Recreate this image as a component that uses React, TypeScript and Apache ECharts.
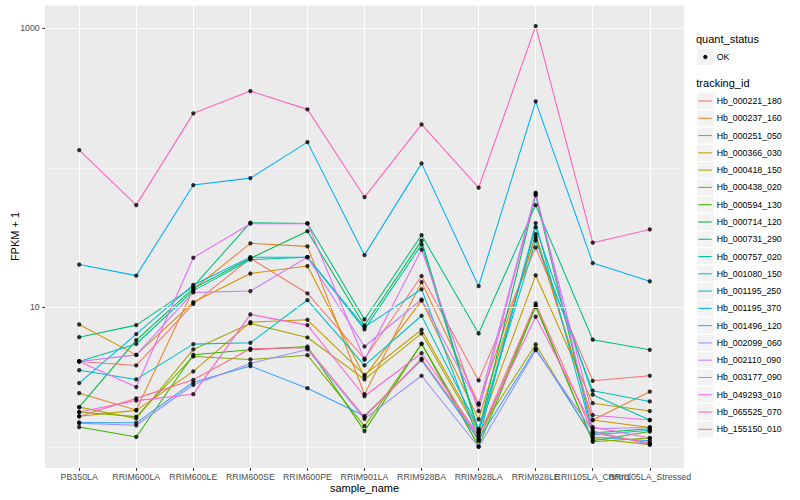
import React, { useEffect, useRef } from "react";
import * as echarts from "echarts";

// ---------- data ----------
const categories = [
  "PB350LA", "RRIM600LA", "RRIM600LE", "RRIM600SE", "RRIM600PE", "RRIM901LA",
  "RRIM928BA", "RRIM928LA", "RRIM928LE", "RRII105LA_Control", "RRII105LA_Stressed",
];

const trackingIds = [
  "Hb_000221_180", "Hb_000237_160", "Hb_000251_050", "Hb_000366_030", "Hb_000418_150",
  "Hb_000438_020", "Hb_000594_130", "Hb_000714_120", "Hb_000731_290", "Hb_000757_020",
  "Hb_001080_150", "Hb_001195_250", "Hb_001195_370", "Hb_001496_120", "Hb_002099_060",
  "Hb_002110_090", "Hb_003177_090", "Hb_049293_010", "Hb_065525_070", "Hb_155150_010",
];

const trackingColors = [
  "#F8766D", "#EA8331", "#D89000", "#C09B00", "#A3A500", "#7CAE00", "#39B600", "#00BB4E",
  "#00BF7D", "#00C1A3", "#00BFC4", "#00BAE0", "#00B0F6", "#35A2FF", "#9590FF", "#C77CFF",
  "#E76BF3", "#FA62DB", "#FF62BC", "#FF6C91",
];

// FPKM + 1 per sample, in category order
const hb_000221_180 = [4.10, 3.84, 10.6, 22.5, 12.6, 4.29, 16.8, 3.00, 26.9, 2.98, 3.24];
const hb_000237_160 = [2.43, 1.84, 13.5, 28.8, 27.4, 2.39, 15.2, 2.05, 31.8, 1.56, 2.49];
const hb_000251_050 = [7.55, 4.57, 10.9, 17.5, 19.8, 3.19, 11.2, 1.58, 33.5, 1.56, 1.38];
const hb_000366_030 = [1.66, 1.83, 3.48, 7.85, 8.16, 3.29, 6.92, 1.33, 17.0, 2.06, 1.81];
const hb_000418_150 = [1.93, 1.60, 5.00, 7.68, 6.09, 3.05, 6.51, 1.27, 5.43, 1.15, 1.04];
const hb_000438_020 = [1.78, 1.65, 4.45, 4.24, 4.55, 1.41, 5.49, 1.10, 10.4, 1.09, 1.16];
const hb_000594_130 = [1.39, 1.18, 4.58, 4.97, 5.25, 1.30, 5.49, 1.01, 10.1, 1.11, 1.29];
const hb_000714_120 = [1.93, 5.83, 13.7, 22.5, 35.2, 7.43, 30.1, 1.30, 63.8, 1.26, 1.35];
const hb_000731_290 = [6.12, 7.47, 14.1, 40.5, 40.0, 8.20, 33.0, 6.51, 54.1, 5.87, 4.97];
const hb_000757_020 = [4.10, 5.47, 13.2, 22.0, 22.9, 6.96, 28.3, 1.26, 37.6, 2.37, 1.56];
const hb_001080_150 = [3.55, 3.05, 5.46, 5.58, 11.3, 3.84, 8.72, 1.35, 30.2, 2.53, 2.12];
const hb_001195_250 = [2.87, 6.44, 14.5, 22.9, 22.9, 7.23, 13.5, 1.13, 40.2, 1.22, 1.32];
const hb_001195_370 = [20.3, 16.9, 75.3, 84.5, 153, 23.7, 107.7, 14.2, 299.7, 20.8, 15.4];
const hb_001496_120 = [1.50, 1.49, 2.91, 3.80, 2.64, 1.67, 4.19, 1.13, 5.08, 1.18, 1.11];
const hb_002099_060 = [1.48, 1.43, 2.79, 3.97, 5.00, 1.59, 3.24, 1.00, 4.94, 1.30, 1.04];
const hb_002110_090 = [4.10, 4.57, 12.8, 13.1, 22.9, 5.25, 11.4, 2.01, 66.4, 1.35, 1.38];
const hb_003177_090 = [4.10, 2.69, 22.7, 39.8, 40.0, 4.22, 26.0, 1.81, 64.9, 1.69, 1.56];
const hb_049293_010 = [1.78, 2.15, 2.39, 8.91, 7.47, 2.31, 4.70, 1.21, 8.58, 1.39, 1.16];
const hb_065525_070 = [134.2, 54.1, 245.9, 355, 262.6, 61.8, 205, 72.1, 1039, 29.1, 36.2];
const hb_155150_010 = [1.66, 2.23, 3.03, 5.06, 5.14, 1.64, 4.29, 1.18, 10.7, 1.26, 1.07];

const seriesValues = [
  hb_000221_180, hb_000237_160, hb_000251_050, hb_000366_030, hb_000418_150,
  hb_000438_020, hb_000594_130, hb_000714_120, hb_000731_290, hb_000757_020,
  hb_001080_150, hb_001195_250, hb_001195_370, hb_001496_120, hb_002099_060,
  hb_002110_090, hb_003177_090, hb_049293_010, hb_065525_070, hb_155150_010,
];

const yMajorTicks = [10, 1000];
const yMin = 0.707;
const yMax = 1470;

// ---------- layout ----------
const FONT = "'Liberation Sans', Arial, Helvetica, sans-serif";
const PANEL = { left: 45, top: 5, width: 639, height: 463 };
const DATA_GRID = { left: 79.2, top: 5, width: 570.6, height: 463 };
const KEY = 17.28;
const KEY_X = 696.7;
const LEGEND_TOP = 92.36;

export default function App() {
  const ref = useRef<HTMLDivElement>(null);

  useEffect(() => {
    if (!ref.current) return;
    const chart = echarts.init(ref.current, undefined, { renderer: "svg" });

    const lineSeries = trackingIds.map((id, i) => ({
      type: "line",
      name: id,
      xAxisIndex: 1,
      yAxisIndex: 1,
      data: seriesValues[i],
      showSymbol: false,
      symbol: "none",
      lineStyle: { color: trackingColors[i], width: 1.07 },
      itemStyle: { color: trackingColors[i] },
      z: 3,
      silent: true,
    }));

    const pointSeries = trackingIds.map((id, i) => ({
      type: "scatter",
      name: id + " points",
      xAxisIndex: 1,
      yAxisIndex: 1,
      data: seriesValues[i],
      symbol: "circle",
      symbolSize: 4.3,
      itemStyle: { color: "#000000" },
      z: 4,
      silent: true,
    }));

    const keyRects = trackingIds.map((_, i) => ({
      type: "rect",
      shape: { x: KEY_X, y: LEGEND_TOP + KEY * i, width: KEY, height: KEY },
      style: { fill: "#F2F2F2", stroke: "#FFFFFF", lineWidth: 1.2 },
      silent: true,
    }));

    const isMajor = (v: number) => yMajorTicks.some((t) => Math.abs(v - t) / t < 1e-6);

    chart.setOption({
      animation: false,
      textStyle: { fontFamily: FONT },
      grid: [
        {
          ...PANEL,
          show: true,
          backgroundColor: "#EBEBEB",
          borderWidth: 0,
          containLabel: false,
          outerBoundsMode: "none",
        },
        { ...DATA_GRID, containLabel: false, outerBoundsMode: "none" },
      ],
      xAxis: [
        { gridIndex: 0, type: "value", min: 0, max: 1, show: false },
        {
          gridIndex: 1,
          type: "category",
          data: categories,
          boundaryGap: false,
          axisLine: { show: false },
          axisTick: {
            show: true,
            interval: 0,
            length: 2.75,
            lineStyle: { color: "#333333", width: 1.07 },
          },
          axisLabel: {
            interval: 0,
            margin: 4,
            fontSize: 8.8,
            color: "#4D4D4D",
            fontFamily: FONT,
          },
          splitLine: {
            show: true,
            interval: 0,
            lineStyle: { color: "#FFFFFF", width: 1.07 },
          },
          name: "sample_name",
          nameLocation: "middle",
          nameGap: 14,
          nameMoveOverlap: false,
          nameTextStyle: { fontSize: 11, color: "#000000", fontFamily: FONT },
        },
      ],
      yAxis: [
        {
          gridIndex: 0,
          type: "log",
          logBase: 10,
          min: yMin,
          max: yMax,
          axisLine: { show: false },
          axisTick: { show: false },
          splitLine: { show: true, lineStyle: { color: "#FFFFFF", width: 0.53 } },
          axisLabel: {
            margin: 0,
            formatter: (v: number) => (isMajor(v) ? `{v|${Math.round(v)}}{t|}` : ""),
            rich: {
              v: { fontSize: 8.8, color: "#4D4D4D", fontFamily: FONT, padding: [0, 2.5, 0, 0] },
              t: { width: 2.75, height: 1.07, backgroundColor: "#333333" },
            },
          },
          name: "FPKM + 1",
          nameLocation: "middle",
          nameGap: 25,
          nameMoveOverlap: false,
          nameRotate: 90,
          nameTextStyle: { fontSize: 11, color: "#000000", fontFamily: FONT },
        },
        {
          gridIndex: 1,
          type: "log",
          logBase: 10,
          min: yMin,
          max: yMax,
          show: false,
          splitLine: { show: false },
        },
      ],
      legend: [
        {
          orient: "vertical",
          left: 698.3,
          top: LEGEND_TOP,
          padding: 0,
          itemGap: 0,
          itemWidth: 13.4,
          itemHeight: KEY,
          icon: "path://M0,0H13.4V1.07H0Z",
          selectedMode: false,
          textStyle: { fontSize: 8.8, color: "#000000", fontFamily: FONT, lineHeight: KEY },
          data: trackingIds.map((id, i) => ({
            name: id,
            itemStyle: { color: trackingColors[i], borderWidth: 0 },
          })),
        },
      ],
      graphic: [
        {
          type: "text",
          x: 696,
          y: 39.3,
          style: { text: "quant_status", fontSize: 11, fill: "#000000", fontFamily: FONT, verticalAlign: "middle" },
          silent: true,
        },
        {
          type: "rect",
          shape: { x: KEY_X, y: 57 - KEY / 2, width: KEY, height: KEY },
          style: { fill: "#F2F2F2", stroke: "#FFFFFF", lineWidth: 1.2 },
          silent: true,
        },
        {
          type: "circle",
          shape: { cx: KEY_X + KEY / 2, cy: 57, r: 2.15 },
          style: { fill: "#000000" },
          silent: true,
        },
        {
          type: "text",
          x: 716.7,
          y: 57,
          style: { text: "OK", fontSize: 8.8, fill: "#000000", fontFamily: FONT, verticalAlign: "middle" },
          silent: true,
        },
        {
          type: "text",
          x: 696.3,
          y: 83.3,
          style: { text: "tracking_id", fontSize: 11, fill: "#000000", fontFamily: FONT, verticalAlign: "middle" },
          silent: true,
        },
        ...keyRects,
      ],
      series: [
        {
          type: "line",
          name: "__major_grid",
          xAxisIndex: 0,
          yAxisIndex: 0,
          data: [],
          silent: true,
          z: 1,
          markLine: {
            silent: true,
            symbol: "none",
            animation: false,
            label: { show: false },
            lineStyle: { color: "#FFFFFF", width: 1.07, type: "solid" },
            data: yMajorTicks.map((v) => ({ yAxis: v })),
          },
        },
        ...lineSeries,
        ...pointSeries,
      ],
    });

    return () => chart.dispose();
  }, []);

  return (
    <div
      ref={ref}
      style={{ position: "fixed", left: 0, top: 0, width: 800, height: 500, background: "#FFFFFF" }}
    />
  );
}
